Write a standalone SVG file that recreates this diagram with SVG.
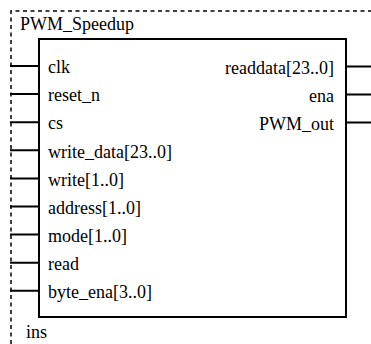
<svg xmlns="http://www.w3.org/2000/svg" width="371" height="344" viewBox="0 0 371 344">
<rect width="371" height="344" fill="#fff"/>
<g id="instance">
<path d="M11,344 V11 H371" fill="none" stroke="#000" stroke-width="1.5" stroke-dasharray="4 3.5"/>
<text x="20" y="30" font-family="Liberation Serif" font-size="18">PWM_Speedup</text>
<text x="26" y="338" font-family="Liberation Serif" font-size="18">ins</text>
</g>
<g id="connectors" stroke="#000" stroke-width="2" fill="none">
<path d="M10,66H39 M10,94.1H39 M10,122.2H39 M10,150.3H39 M10,178.4H39 M10,206.5H39 M10,234.6H39 M10,262.7H39 M10,290.8H39"/>
<path d="M346,66.5H371 M346,94.5H371 M346,122.5H371"/>
</g>
<g id="block">
<rect x="39" y="39" width="307" height="278" fill="#fff" stroke="#000" stroke-width="2"/>
<text x="48" y="73" font-family="Liberation Serif" font-size="18">clk</text>
<text x="48" y="101" font-family="Liberation Serif" font-size="18">reset_n</text>
<text x="48" y="129" font-family="Liberation Serif" font-size="18">cs</text>
<text x="48" y="157.5" font-family="Liberation Serif" font-size="18">write_data[23..0]</text>
<text x="48" y="185.5" font-family="Liberation Serif" font-size="18">write[1..0]</text>
<text x="48" y="213.5" font-family="Liberation Serif" font-size="18">address[1..0]</text>
<text x="48" y="241.5" font-family="Liberation Serif" font-size="18">mode[1..0]</text>
<text x="48" y="269.5" font-family="Liberation Serif" font-size="18">read</text>
<text x="48" y="297.5" font-family="Liberation Serif" font-size="18">byte_ena[3..0]</text>
<text x="334" y="73.5" font-family="Liberation Serif" font-size="18" text-anchor="end">readdata[23..0]</text>
<text x="334" y="101.5" font-family="Liberation Serif" font-size="18" text-anchor="end">ena</text>
<text x="334" y="129.5" font-family="Liberation Serif" font-size="18" text-anchor="end">PWM_out</text>
</g>
</svg>
